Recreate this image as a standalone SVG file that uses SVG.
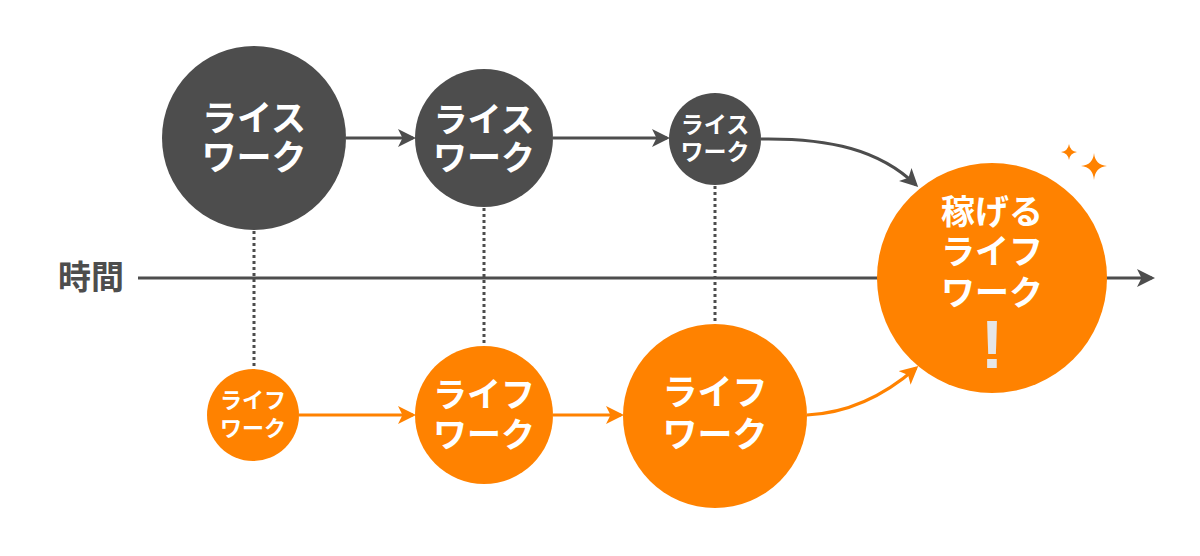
<svg xmlns="http://www.w3.org/2000/svg" width="1200" height="556" viewBox="0 0 1200 556">
<style>
.dk{fill:#4d4d4d}
.or{fill:#ff8200}
.t{font-family:"Noto Sans CJK JP","Noto Sans",sans-serif;font-weight:700;fill:#ffffff;text-anchor:middle}
.ln{fill:none;stroke-width:3}
.dl{stroke:#4d4d4d}
.ol{stroke:#ff8200}
.dot{fill:none;stroke:#4d4d4d;stroke-width:3;stroke-dasharray:3 3}
</style>
<defs>
<marker id="ad" viewBox="0 0 12 12" refX="10" refY="6" markerWidth="6" markerHeight="6" markerUnits="strokeWidth" orient="auto">
<path d="M0,0 L12,6 L0,12 L3,6 z" fill="#4d4d4d"/>
</marker>
<marker id="ao" viewBox="0 0 12 12" refX="10" refY="6" markerWidth="6" markerHeight="6" markerUnits="strokeWidth" orient="auto">
<path d="M0,0 L12,6 L0,12 L3,6 z" fill="#ff8200"/>
</marker>
</defs>
<rect width="1200" height="556" fill="#ffffff"/>
<g id="connectors">
<line class="dot" x1="254" y1="231" x2="254" y2="368"/>
<line class="dot" x1="484" y1="208" x2="484" y2="346"/>
<line class="dot" x1="715" y1="186" x2="715" y2="323"/>
<line class="ln dl" x1="138" y1="278" x2="1152" y2="278" marker-end="url(#ad)"/>
<line class="ln dl" x1="346" y1="138" x2="413" y2="138" marker-end="url(#ad)"/>
<line class="ln dl" x1="553" y1="138" x2="667" y2="138" marker-end="url(#ad)"/>
<path class="ln dl" d="M761,139 C830,138 880,150 916,185" marker-end="url(#ad)"/>
<line class="ln ol" x1="299" y1="415" x2="413" y2="415" marker-end="url(#ao)"/>
<line class="ln ol" x1="553" y1="415" x2="621" y2="415" marker-end="url(#ao)"/>
<path class="ln ol" d="M807,415 C850,413 885,395 916,368" marker-end="url(#ao)"/>
</g>
<g id="label-time">
<text x="91" y="289" font-family="'Noto Sans CJK JP','Noto Sans',sans-serif" font-weight="700" font-size="33" fill="#4d4d4d" text-anchor="middle">時間</text>
</g>
<g id="rice1">
<circle class="dk" cx="254" cy="138" r="92"/>
<text class="t" font-size="35"><tspan x="254" y="131">ライス</tspan><tspan x="254" y="170">ワーク</tspan></text>
</g>
<g id="rice2">
<circle class="dk" cx="484" cy="138" r="69"/>
<text class="t" font-size="34"><tspan x="484" y="132">ライス</tspan><tspan x="484" y="170">ワーク</tspan></text>
</g>
<g id="rice3">
<circle class="dk" cx="715" cy="139" r="46"/>
<text class="t" font-size="23"><tspan x="715" y="133">ライス</tspan><tspan x="715" y="160">ワーク</tspan></text>
</g>
<g id="life1">
<circle class="or" cx="253" cy="415" r="46"/>
<text class="t" font-size="22"><tspan x="253" y="408">ライフ</tspan><tspan x="253" y="436">ワーク</tspan></text>
</g>
<g id="life2">
<circle class="or" cx="484" cy="415" r="69"/>
<text class="t" font-size="34"><tspan x="484" y="407">ライフ</tspan><tspan x="484" y="447">ワーク</tspan></text>
</g>
<g id="life3">
<circle class="or" cx="715" cy="416" r="92"/>
<text class="t" font-size="35"><tspan x="715" y="405">ライフ</tspan><tspan x="715" y="447">ワーク</tspan></text>
</g>
<g id="goal">
<circle class="or" cx="992" cy="278" r="115"/>
<text class="t" font-size="34"><tspan x="992" y="224">稼げる</tspan><tspan x="992" y="264">ライフ</tspan><tspan x="992" y="305">ワーク</tspan></text>
<text x="992" y="368" font-family="'Liberation Sans',Arial,sans-serif" font-weight="700" font-size="68" fill="#e6e6e6" text-anchor="middle">!</text>
</g>
<g id="sparkles" fill="#ff8200">
<path d="M1069,144 Q1070,151 1077,152 Q1070,153 1069,160 Q1068,153 1061,152 Q1068,151 1069,144 z"/>
<path d="M1094,153 Q1095,165 1107,166 Q1095,167 1094,180 Q1093,167 1081,166 Q1093,165 1094,153 z"/>
</g>
</svg>
